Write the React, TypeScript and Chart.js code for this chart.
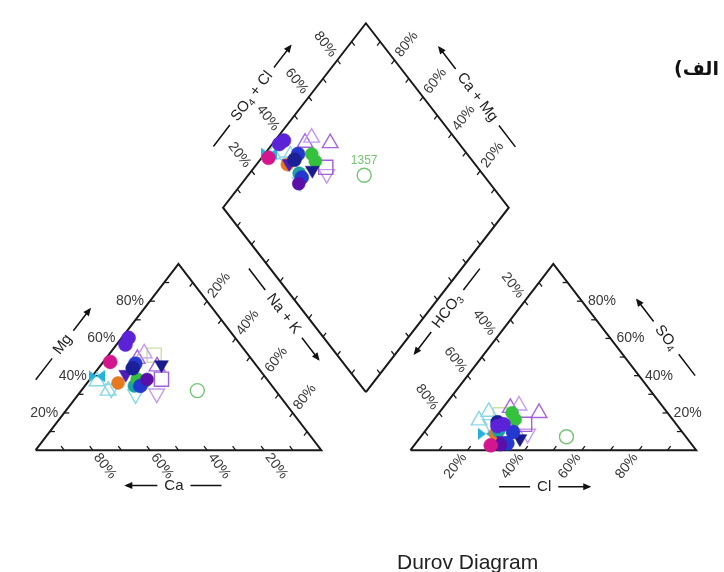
import React, { useEffect, useRef } from "react";
import { Chart, registerables } from "chart.js";

Chart.register(...registerables);

// ---------------- data ----------------
const sampleIds = [
  "1357", "S02", "S03", "S04", "S05", "S06", "S07", "S08", "S09", "S10", "S11", "S12",
  "S13", "S14", "S15", "S16", "S17", "S18", "S19", "S20", "S21", "S22", "S23", "S24", "S25",
];
// cations (% meq)
const caPct = [27.4, 33, 42.4, 57, 50, 58.6, 39.9, 35, 36.9, 58.8, 53.1, 48.2, 45.4, 43.7, 48.1, 33, 41.9, 46.1, 42, 44, 40.2, 37.3, 50.2, 60, 36];
const mgPct = [32.0, 51, 30.4, 33, 30, 32.0, 49.0, 45, 38.1, 39.7, 36.1, 34.5, 38.1, 36.6, 40.7, 45.9, 46.4, 34.5, 38, 44, 56.7, 60.3, 47.4, 37, 52];
const naKPct = [40.6, 16, 27.2, 10, 20, 9.4, 11.1, 20, 25.0, 1.5, 10.8, 17.3, 16.5, 19.7, 11.2, 21.1, 11.7, 19.4, 20, 12, 3.1, 2.4, 2.4, 3, 12];
// anions (% meq)
const hco3Pct = [41.8, 59, 54.6, 65, 66, 62.3, 53.7, 45, 53.1, 69.2, 65.8, 64.0, 54.4, 55.1, 64.9, 58.6, 59.2, 64.3, 67, 62, 60.5, 63.1, 70.6, 68, 50];
const so4Pct = [7.2, 19, 8.8, 14, 8, 20.6, 22.7, 20, 13.9, 8.8, 8.8, 10.3, 20.1, 16.5, 5.2, 6.2, 9.8, 3.6, 3, 15, 13.9, 12.9, 2.6, 16, 24];
const clPct = [51.0, 22, 36.6, 21, 26, 17.1, 23.6, 35, 33.0, 22.0, 25.4, 25.7, 25.5, 28.4, 29.9, 35.2, 31.0, 32.1, 30, 23, 25.6, 24.0, 26.8, 16, 26];
// marker kind of every sample
const sampleMarker = [
  "greenOpenCircle", "lightGreenOpenSquare", "lilacOpenDown", "cyanOpenDown", "cyanOpenDown", "cyanOpenUp",
  "purpleOpenUp", "purpleOpenUp", "purpleOpenSquare", "cyanBowtie", "orangeDot", "tealDot",
  "greenDot", "greenDot", "violetDown", "navyDown", "blueDot", "blueDot", "plumDot", "navyDot",
  "violetDot", "violetDot", "magentaDot", "cyanOpenUp", "lilacOpenUp",
];
const labelledSample = "1357";

const tickPercents = [20, 40, 60, 80];
const minorTickPercents = [10, 20, 30, 40, 50, 60, 70, 80, 90];
const chartTitle = "Durov Diagram";
const panelLabel = "الف)";

// ---------------- styles ----------------
const FONT = "'Liberation Sans', Arial, Helvetica, sans-serif";
const EDGE = "#1a1a1a";

type MarkerDef = { style: string; color: string; filled: boolean; r: number; rot?: number };
const MARKERS: Record<string, MarkerDef> = {
  greenOpenCircle: { style: "circle", color: "#72c672", filled: false, r: 7 },
  lightGreenOpenSquare: { style: "rect", color: "#c9e3a2", filled: false, r: 10 },
  lilacOpenDown: { style: "triangle", color: "#c69af0", filled: false, r: 9, rot: 180 },
  lilacOpenUp: { style: "triangle", color: "#c69af0", filled: false, r: 9 },
  cyanOpenDown: { style: "triangle", color: "#8ad8e6", filled: false, r: 9, rot: 180 },
  cyanOpenUp: { style: "triangle", color: "#8ad8e6", filled: false, r: 9 },
  purpleOpenUp: { style: "triangle", color: "#a862e6", filled: false, r: 9 },
  purpleOpenSquare: { style: "rect", color: "#a060d8", filled: false, r: 10 },
  cyanBowtie: { style: "bowtie", color: "#22b2dc", filled: true, r: 7 },
  orangeDot: { style: "circle", color: "#e6781e", filled: true, r: 6.5 },
  tealDot: { style: "circle", color: "#1ba2a2", filled: true, r: 6.5 },
  greenDot: { style: "circle", color: "#34c23c", filled: true, r: 6.5 },
  violetDown: { style: "triangle", color: "#4c1cb8", filled: true, r: 8, rot: 180 },
  navyDown: { style: "triangle", color: "#1a1a8e", filled: true, r: 8, rot: 180 },
  blueDot: { style: "circle", color: "#2438d0", filled: true, r: 7 },
  plumDot: { style: "circle", color: "#5a10a8", filled: true, r: 6.5 },
  navyDot: { style: "circle", color: "#1c2096", filled: true, r: 7 },
  violetDot: { style: "circle", color: "#5c22d8", filled: true, r: 7 },
  magentaDot: { style: "circle", color: "#d4168e", filled: true, r: 7 },
};

// ---------------- geometry (units: triangle side in x, triangle height in y) ----------------
const GAP = 0.312;
const DS = 0.99; // vertical half-height of the diamond
const RX = 1 + GAP; // right triangle origin
const DB: [number, number] = [1 + GAP / 2, GAP];
const DL: [number, number] = [0.5 + GAP / 2, GAP + DS];
const DR: [number, number] = [1.5 + GAP / 2, GAP + DS];
const DT: [number, number] = [1 + GAP / 2, GAP + 2 * DS];

const PX_PER_X = 295;
const PX_PER_Y = 194;
const ORIGIN_PX = [25, 457];
const W = 724;
const H = 572;
const X_MIN = -ORIGIN_PX[0] / PX_PER_X;
const X_MAX = X_MIN + W / PX_PER_X;
const Y_MAX = ORIGIN_PX[1] / PX_PER_Y;
const Y_MIN = Y_MAX - H / PX_PER_Y;

const cationPos = (i: number) => {
  const mg = mgPct[i] / 100, na = naKPct[i] / 100;
  return { x: na + mg / 2, y: mg };
};
const anionPos = (i: number) => {
  const s = so4Pct[i] / 100, c = clPct[i] / 100;
  return { x: RX + c + s / 2, y: s };
};
const diamondPos = (i: number) => {
  const na = naKPct[i] / 100, sc = (so4Pct[i] + clPct[i]) / 100;
  return { x: DL[0] + 0.5 * (na + sc), y: DL[1] + DS * (sc - na) };
};

type Edge = { at: (f: number) => [number, number]; inward: [number, number]; labelled: boolean };
const EDGES: Edge[] = [
  { at: (f) => [1 - f, 0], inward: [-0.5, 1], labelled: true }, // Ca
  { at: (f) => [f / 2, f], inward: [1, 0], labelled: true }, // Mg
  { at: (f) => [0.5 + f / 2, 1 - f], inward: [-0.5, -1], labelled: true }, // Na+K
  { at: (f) => [RX + f, 0], inward: [0.5, 1], labelled: true }, // Cl
  { at: (f) => [RX + 1 - f / 2, f], inward: [-1, 0], labelled: true }, // SO4
  { at: (f) => [RX + 0.5 - f / 2, 1 - f], inward: [0.5, -1], labelled: true }, // HCO3
  { at: (f) => [DL[0] + 0.5 * f, DL[1] + DS * f], inward: [0.5, -DS], labelled: true }, // SO4+Cl
  { at: (f) => [DR[0] - 0.5 * f, DR[1] + DS * f], inward: [-0.5, -DS], labelled: true }, // Ca+Mg
  { at: (f) => [DL[0] + 0.5 * f, DL[1] - DS * f], inward: [0.5, DS], labelled: false },
  { at: (f) => [DB[0] + 0.5 * f, DB[1] + DS * f], inward: [-0.5, DS], labelled: false },
];

type Part = { t: string; sub?: boolean };
type Title = { parts: Part[]; at: [number, number]; dir: "h" | "up" | "down"; arrow: "start" | "end" };
const TITLES: Title[] = [
  { parts: [{ t: "Ca" }], at: [0.484, -0.19], dir: "h", arrow: "start" },
  { parts: [{ t: "Mg" }], at: [0.095, 0.567], dir: "up", arrow: "end" },
  { parts: [{ t: "Na + K" }], at: [0.868, 0.732], dir: "down", arrow: "end" },
  { parts: [{ t: "SO" }, { t: "4", sub: true }, { t: " + Cl" }], at: [0.757, 1.9], dir: "up", arrow: "end" },
  { parts: [{ t: "Ca + Mg" }], at: [1.546, 1.895], dir: "down", arrow: "start" },
  { parts: [{ t: "HCO" }, { t: "3", sub: true }], at: [1.441, 0.747], dir: "up", arrow: "start" },
  { parts: [{ t: "SO" }, { t: "4", sub: true }], at: [2.207, 0.603], dir: "down", arrow: "start" },
  { parts: [{ t: "Cl" }], at: [1.78, -0.196], dir: "h", arrow: "end" },
];

function makeBowtie(color: string) {
  const c = document.createElement("canvas");
  c.width = 16;
  c.height = 12;
  const g = c.getContext("2d")!;
  g.fillStyle = color;
  g.beginPath(); g.moveTo(0, 0); g.lineTo(8, 6); g.lineTo(0, 12); g.closePath(); g.fill();
  g.beginPath(); g.moveTo(16, 0); g.lineTo(8, 6); g.lineTo(16, 12); g.closePath(); g.fill();
  return c;
}

const decorPlugin = {
  id: "durovDecor",
  beforeDatasetsDraw(chart: any) {
    const ctx: CanvasRenderingContext2D = chart.ctx;
    const xs = chart.scales.x, ys = chart.scales.y;
    const P = (u: [number, number]) => ({ x: xs.getPixelForValue(u[0]), y: ys.getPixelForValue(u[1]) });
    const dirPx = (d: [number, number]) => {
      const a = P([0, 0]), b = P(d);
      const dx = b.x - a.x, dy = b.y - a.y, n = Math.hypot(dx, dy);
      return { x: dx / n, y: dy / n };
    };
    ctx.save();
    ctx.strokeStyle = EDGE;
    ctx.lineWidth = 1.3;
    for (const e of EDGES) {
      const d = dirPx(e.inward);
      for (const p of minorTickPercents) {
        const s = P(e.at(p / 100));
        ctx.beginPath();
        ctx.moveTo(s.x, s.y);
        ctx.lineTo(s.x + d.x * 5, s.y + d.y * 5);
        ctx.stroke();
      }
    }
    ctx.restore();
  },
  afterDatasetsDraw(chart: any) {
    const ctx: CanvasRenderingContext2D = chart.ctx;
    const xs = chart.scales.x, ys = chart.scales.y;
    const P = (u: [number, number]) => ({ x: xs.getPixelForValue(u[0]), y: ys.getPixelForValue(u[1]) });
    const dirPx = (d: [number, number]) => {
      const a = P([0, 0]), b = P(d);
      const dx = b.x - a.x, dy = b.y - a.y, n = Math.hypot(dx, dy);
      return { x: dx / n, y: dy / n };
    };
    const norm = (a: number) => {
      if (a > Math.PI / 2 + 1e-6) return a - Math.PI;
      if (a < -Math.PI / 2 - 1e-6) return a + Math.PI;
      return a;
    };
    ctx.save();
    // tick labels
    ctx.font = `14px ${FONT}`;
    ctx.fillStyle = "#3a3a3a";
    ctx.textAlign = "center";
    ctx.textBaseline = "middle";
    for (const e of EDGES) {
      if (!e.labelled) continue;
      const out = dirPx([-e.inward[0], -e.inward[1]]);
      const ang = norm(Math.atan2(out.y, out.x));
      for (const p of tickPercents) {
        const s = P(e.at(p / 100));
        const txt = `${p}%`;
        const w = ctx.measureText(txt).width;
        const dist = 6 + w / 2;
        ctx.save();
        ctx.translate(s.x + out.x * dist, s.y + out.y * dist);
        ctx.rotate(ang);
        ctx.fillText(txt, 0, 0);
        ctx.restore();
      }
    }
    // axis titles with arrows
    const up = dirPx([0.5, 1]);
    const down = dirPx([0.5, -1]);
    for (const t of TITLES) {
      const c = P(t.at);
      const v = t.dir === "up" ? up : down;
      const ang = t.dir === "h" ? 0 : Math.atan2(v.y, v.x);
      ctx.save();
      ctx.translate(c.x, c.y);
      ctx.rotate(ang);
      const big = `15px ${FONT}`, small = `10px ${FONT}`;
      let total = 0;
      for (const part of t.parts) { ctx.font = part.sub ? small : big; total += ctx.measureText(part.t).width; }
      let x = -total / 2;
      ctx.fillStyle = "#222";
      ctx.textAlign = "left";
      ctx.textBaseline = "middle";
      for (const part of t.parts) {
        ctx.font = part.sub ? small : big;
        ctx.fillText(part.t, x, part.sub ? 4 : 0);
        x += ctx.measureText(part.t).width;
      }
      const gap = 7, seg = t.dir === "h" ? 31 : 27;
      const a0 = total / 2 + gap, a1 = a0 + seg;
      ctx.strokeStyle = "#111";
      ctx.lineWidth = 1.5;
      ctx.beginPath();
      ctx.moveTo(-a1, 0); ctx.lineTo(-a0, 0);
      ctx.moveTo(a0, 0); ctx.lineTo(a1, 0);
      ctx.stroke();
      const tip = t.arrow === "end" ? a1 + 2 : -a1 - 2;
      const sgn = t.arrow === "end" ? 1 : -1;
      ctx.fillStyle = "#111";
      ctx.beginPath();
      ctx.moveTo(tip, 0);
      ctx.lineTo(tip - sgn * 8, -3.5);
      ctx.lineTo(tip - sgn * 8, 3.5);
      ctx.closePath();
      ctx.fill();
      ctx.restore();
    }
    // sample label in the diamond
    const li = sampleIds.indexOf(labelledSample);
    if (li >= 0) {
      const d = diamondPos(li);
      const p = P([d.x, d.y]);
      ctx.font = `12px ${FONT}`;
      ctx.fillStyle = MARKERS[sampleMarker[li]].color;
      ctx.textAlign = "center";
      ctx.textBaseline = "middle";
      ctx.fillText(labelledSample, p.x, p.y - 15);
    }
    // title and panel label
    ctx.fillStyle = "#222";
    ctx.font = `21px ${FONT}`;
    ctx.textAlign = "left";
    ctx.textBaseline = "alphabetic";
    ctx.fillText(chartTitle, 397, 569);
    ctx.font = `bold 19px 'DejaVu Sans', sans-serif`;
    ctx.fillStyle = "#111";
    ctx.direction = "rtl";
    ctx.textAlign = "right";
    ctx.textBaseline = "middle";
    ctx.fillText(panelLabel, 719, 70);
    ctx.restore();
  },
};

export default function App() {
  const ref = useRef<HTMLCanvasElement | null>(null);
  useEffect(() => {
    const canvas = ref.current;
    if (!canvas) return;
    const datasets: any[] = [];
    const n = sampleIds.length;
    const drawRank = (i: number) => (MARKERS[sampleMarker[i]].filled ? 0 : 100);
    for (let i = 0; i < n; i++) {
      const m = MARKERS[sampleMarker[i]];
      const c = cationPos(i), a = anionPos(i), d = diamondPos(i);
      datasets.push({
        label: sampleIds[i],
        data: [c, a, d],
        showLine: false,
        pointStyle: m.style === "bowtie" ? makeBowtie(m.color) : m.style,
        pointRotation: m.rot ?? 0,
        pointRadius: m.r,
        pointBackgroundColor: m.filled ? m.color : "rgba(0,0,0,0)",
        pointBorderColor: m.color,
        pointBorderWidth: m.filled ? 0.5 : 1.4,
        order: drawRank(i) + n - i + 10,
      });
    }
    const outline = (pts: [number, number][]) => ({
      label: "outline",
      data: pts.map((p) => ({ x: p[0], y: p[1] })),
      showLine: true,
      borderColor: EDGE,
      borderWidth: 2,
      pointRadius: 0,
      fill: false,
      tension: 0,
      order: 1000,
    });
    datasets.push(outline([[0, 0], [1, 0], [0.5, 1], [0, 0]]));
    datasets.push(outline([[RX, 0], [RX + 1, 0], [RX + 0.5, 1], [RX, 0]]));
    datasets.push(outline([DB, DR, DT, DL, DB]));

    const chart = new Chart(canvas, {
      type: "scatter",
      data: { datasets },
      options: {
        animation: false,
        responsive: false,
        maintainAspectRatio: false,
        events: [],
        layout: { padding: 0 },
        plugins: { legend: { display: false }, tooltip: { enabled: false }, title: { display: false } },
        scales: {
          x: { type: "linear", display: false, min: X_MIN, max: X_MAX },
          y: { type: "linear", display: false, min: Y_MIN, max: Y_MAX },
        },
      },
      plugins: [decorPlugin],
    } as any);
    return () => chart.destroy();
  }, []);
  return (
    <div style={{ position: "fixed", left: 0, top: 0, width: W, height: H, background: "#fff" }}>
      <canvas ref={ref} width={W} height={H} style={{ display: "block" }} />
    </div>
  );
}
